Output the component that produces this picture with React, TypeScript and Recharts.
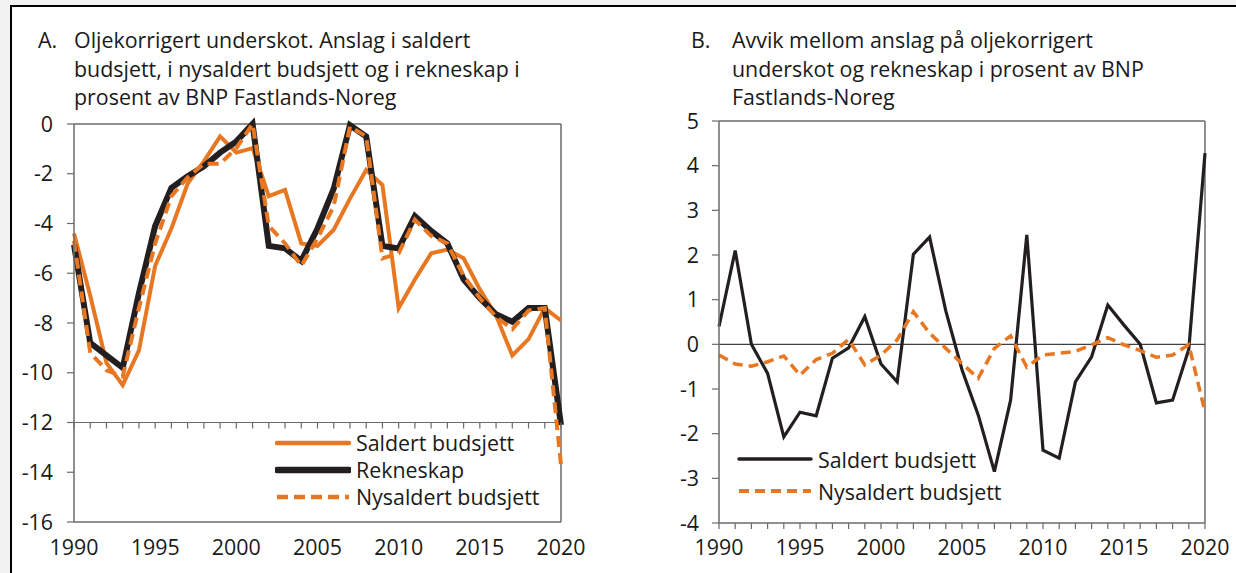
import React from "react";
import { LineChart, Line, XAxis, YAxis, ReferenceLine } from "recharts";

const years = [
  1990, 1991, 1992, 1993, 1994, 1995, 1996, 1997, 1998, 1999, 2000, 2001, 2002, 2003, 2004, 2005,
  2006, 2007, 2008, 2009, 2010, 2011, 2012, 2013, 2014, 2015, 2016, 2017, 2018, 2019, 2020,
];

// Panel A: oljekorrigert underskot, % av BNP Fastlands-Noreg
const saldertA = [
  -4.4, -6.9, -9.6, -10.5, -9.1, -5.7, -4.2, -2.4, -1.5, -0.5, -1.15, -0.97, -2.9, -2.65, -4.8, -4.9,
  -4.25, -3.0, -1.85, -2.45, -7.4, -6.25, -5.2, -5.05, -5.4, -6.65, -7.7, -9.3, -8.65, -7.4, -7.9,
];
const rekneskapA = [
  -4.85, -8.8, -9.3, -9.8, -6.8, -4.1, -2.57, -2.1, -1.7, -1.15, -0.7, 0, -4.9, -5.0, -5.5, -4.2,
  -2.6, -0.05, -0.5, -4.9, -5.0, -3.7, -4.3, -4.8, -6.25, -7.0, -7.65, -7.95, -7.4, -7.4, -12.1,
];
const nysaldertA = [
  -4.7, -9.2, -9.9, -10.15, -7.4, -4.8, -2.9, -2.15, -1.6, -1.6, -0.97, 0, -4.1, -4.8, -5.7, -4.6,
  -3.3, -0.1, -0.5, -5.4, -5.2, -3.85, -4.5, -4.8, -6.1, -7.0, -7.75, -8.25, -7.5, -7.4, -13.7,
];

// Panel B: avvik mellom anslag og rekneskap
const saldertB = [
  0.4, 2.1, 0, -0.65, -2.07, -1.52, -1.6, -0.31, -0.08, 0.62, -0.44, -0.84, 2.02, 2.4, 0.75, -0.57,
  -1.58, -2.85, -1.25, 2.45, -2.37, -2.55, -0.84, -0.28, 0.88, 0.43, 0, -1.31, -1.25, -0.11, 4.28,
];
const nysaldertB = [
  -0.24, -0.44, -0.49, -0.39, -0.26, -0.69, -0.34, -0.2, 0.11, -0.46, -0.24, 0.1, 0.73, 0.25, -0.09, -0.43,
  -0.76, -0.09, 0.19, -0.51, -0.24, -0.2, -0.16, -0.01, 0.15, -0.01, -0.14, -0.29, -0.24, -0.01, -1.51,
];

const ticksA = [0, -2, -4, -6, -8, -10, -12, -14, -16];
const ticksB = [5, 4, 3, 2, 1, 0, -1, -2, -3, -4];

const dataA = years.map((year, i) => ({
  year,
  saldert: saldertA[i],
  rekneskap: rekneskapA[i],
  nysaldert: nysaldertA[i],
}));
const dataB = years.map((year, i) => ({ year, saldert: saldertB[i], nysaldert: nysaldertB[i] }));

const ORANGE = "#e87722";
const BLACK = "#231f20";
const AXIS = "#6b6b6b";
const INK = "#1a1a1a";
const FONT = '"Open Sans", sans-serif';
const TXT = 21.4;

type LegendItem = { label: string; color: string; width: number; dash?: string };

const legendA: LegendItem[] = [
  { label: "Saldert budsjett", color: ORANGE, width: 4.5 },
  { label: "Rekneskap", color: BLACK, width: 6.5 },
  { label: "Nysaldert budsjett", color: ORANGE, width: 4.5, dash: "11 6" },
];
const legendB: LegendItem[] = [
  { label: "Saldert budsjett", color: BLACK, width: 3.5 },
  { label: "Nysaldert budsjett", color: ORANGE, width: 4, dash: "10 6" },
];

function LegendBox({ items, rowH, left, top }: { items: LegendItem[]; rowH: number; left: number; top: number }) {
  return (
    <div style={{ position: "absolute", left, top, fontFamily: FONT, fontSize: TXT, color: INK }}>
      {items.map((it) => (
        <div key={it.label} style={{ display: "flex", alignItems: "center", height: rowH, whiteSpace: "nowrap" }}>
          <svg width={76} height={12} style={{ marginRight: 5 }}>
            <line x1={2} x2={74} y1={6} y2={6} stroke={it.color} strokeWidth={it.width} strokeDasharray={it.dash} strokeLinecap={it.dash ? "butt" : "round"} />
          </svg>
          <span>{it.label}</span>
        </div>
      ))}
    </div>
  );
}

function YearTick(props: any) {
  const { x, payload, crossY, labelY } = props;
  const yr = payload.value;
  return (
    <g>
      <line x1={x} x2={x} y1={crossY} y2={crossY + 6} stroke={AXIS} strokeWidth={1.2} />
      {yr % 5 === 0 && (
        <text x={x} y={labelY} textAnchor="middle" dominantBaseline="central" fontSize={TXT} fill={INK} fontFamily={FONT}>
          {yr}
        </text>
      )}
    </g>
  );
}

const yTick = { fontSize: TXT, fill: INK, fontFamily: FONT };

function Title({ tag, lines, left, tagLeft }: { tag: string; lines: string[]; left: number; tagLeft: number }) {
  const style: React.CSSProperties = { position: "absolute", top: 26, fontFamily: FONT, fontSize: TXT, lineHeight: "28.5px", color: INK, whiteSpace: "nowrap" };
  return (
    <>
      <div style={{ ...style, left: tagLeft }}>{tag}</div>
      <div style={{ ...style, left }}>
        {lines.map((l) => (
          <div key={l}>{l}</div>
        ))}
      </div>
    </>
  );
}

export default function App() {
  return (
    <div style={{ position: "fixed", left: 0, top: 0, width: 1236, height: 573, background: "#f2f2f2", overflow: "hidden" }}>
      <div style={{ position: "absolute", left: 10, top: 5, right: 0, bottom: -4, background: "#fff", borderTop: "2px solid #000", borderLeft: "2px solid #000" }} />

      <Title
        tag="A."
        tagLeft={38}
        left={74}
        lines={["Oljekorrigert underskot. Anslag i saldert", "budsjett, i nysaldert budsjett og i rekneskap i", "prosent av BNP Fastlands-Noreg"]}
      />
      <div style={{ position: "absolute", left: 0, top: 0 }}>
        <LineChart width={600} height={573} data={dataA} margin={{ top: 124, right: 39, bottom: 21, left: 14 }}>
          <XAxis
            dataKey="year"
            type="number"
            domain={[1990, 2020]}
            ticks={years}
            interval={0}
            height={30}
            tickLine={false}
            axisLine={{ stroke: AXIS, strokeWidth: 1.5 }}
            tick={(p: any) => <YearTick {...p} crossY={422.5} labelY={546} />}
          />
          <YAxis
            type="number"
            domain={[-16, 0]}
            ticks={ticksA}
            interval={0}
            width={60}
            tickSize={7}
            tickMargin={14}
            tickLine={{ stroke: AXIS, strokeWidth: 1.2 }}
            axisLine={{ stroke: AXIS, strokeWidth: 1.5 }}
            tick={yTick}
          />
          <ReferenceLine y={0} stroke={AXIS} strokeWidth={1.5} />
          <ReferenceLine x={2020} stroke={AXIS} strokeWidth={1.5} />
          <ReferenceLine y={-12} stroke={AXIS} strokeWidth={1.2} />
          <Line dataKey="saldert" stroke={ORANGE} strokeWidth={4} dot={false} isAnimationActive={false} strokeLinejoin="miter" />
          <Line dataKey="rekneskap" stroke={BLACK} strokeWidth={6} dot={false} isAnimationActive={false} strokeLinejoin="miter" />
          <Line dataKey="nysaldert" stroke={ORANGE} strokeWidth={4} strokeDasharray="11 6" dot={false} isAnimationActive={false} />
        </LineChart>
      </div>
      <LegendBox items={legendA} rowH={27} left={275} top={429} />

      <Title
        tag="B."
        tagLeft={691}
        left={732}
        lines={["Avvik mellom anslag på oljekorrigert", "underskot og rekneskap i prosent av BNP", "Fastlands-Noreg"]}
      />
      <div style={{ position: "absolute", left: 618, top: 0 }}>
        <LineChart width={618} height={573} data={dataB} margin={{ top: 121, right: 31, bottom: 20, left: 41 }}>
          <XAxis
            dataKey="year"
            type="number"
            domain={[1990, 2020]}
            ticks={years}
            interval={0}
            height={30}
            tickLine={false}
            axisLine={{ stroke: AXIS, strokeWidth: 1.5 }}
            tick={(p: any) => <YearTick {...p} crossY={523} labelY={546} />}
          />
          <YAxis
            type="number"
            domain={[-4, 5]}
            ticks={ticksB}
            interval={0}
            width={60}
            tickSize={7}
            tickMargin={13}
            tickLine={{ stroke: AXIS, strokeWidth: 1.2 }}
            axisLine={{ stroke: AXIS, strokeWidth: 1.5 }}
            tick={yTick}
          />
          <ReferenceLine y={5} stroke={AXIS} strokeWidth={1.5} />
          <ReferenceLine x={2020} stroke={AXIS} strokeWidth={1.5} />
          <ReferenceLine y={0} stroke="#404040" strokeWidth={1.2} />
          <Line dataKey="saldert" stroke={BLACK} strokeWidth={3.2} dot={false} isAnimationActive={false} strokeLinejoin="miter" />
          <Line dataKey="nysaldert" stroke={ORANGE} strokeWidth={3.5} strokeDasharray="10 6" dot={false} isAnimationActive={false} />
        </LineChart>
      </div>
      <LegendBox items={legendB} rowH={32} left={737} top={443} />
    </div>
  );
}
